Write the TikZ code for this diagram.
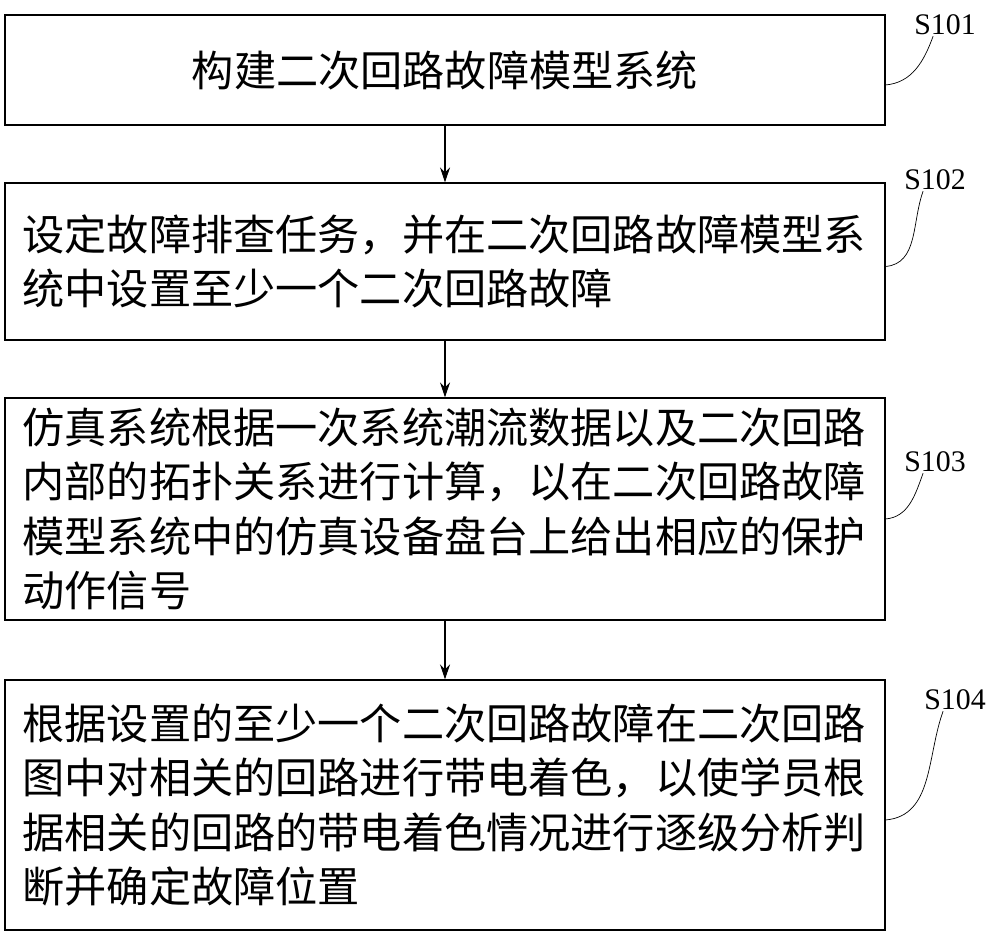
\documentclass[tikz,border=0pt]{standalone}
\usepackage{fontspec}
\setmainfont{Liberation Serif}
\newfontfamily\cjk{Noto Sans CJK SC}
\usetikzlibrary{arrows.meta}

\tikzset{
    stepbox/.style={draw=black, line width=0.6pt, minimum width=17.6cm,
        text width=16.9cm, font=\cjk\fontsize{24}{31}\selectfont, inner sep=0pt},
    steplabel/.style={font=\fontsize{17}{20}\selectfont},
    flow/.style={-{Stealth[length=3mm,width=2mm]}, line width=0.6pt}
}

\begin{document}
\begin{tikzpicture}
        \useasboundingbox (0,0) rectangle (20,18.86);
        % boxes
        \node[stepbox, minimum height=2.2cm, align=center] (box1) at (8.9,17.46)
        {构建二次回路故障模型系统};
        \node[stepbox, minimum height=3.14cm, align=left] (box2) at (8.9,13.63)
        {设定故障排查任务，并在二次回路故障模型系\\统中设置至少一个二次回路故障};
        \node[stepbox, minimum height=4.44cm, align=left] (box3) at (8.9,8.68)
        {仿真系统根据一次系统潮流数据以及二次回路\\内部的拓扑关系进行计算，以在二次回路故障\\模型系统中的仿真设备盘台上给出相应的保护\\动作信号};
        \node[stepbox, minimum height=5.0cm, align=left] (box4) at (8.9,2.76)
        {根据设置的至少一个二次回路故障在二次回路\\图中对相关的回路进行带电着色，以使学员根\\据相关的回路的带电着色情况进行逐级分析判\\断并确定故障位置};
        % arrows
        \draw[flow] (box1) -- (box2);
        \draw[flow] (box2) -- (box3);
        \draw[flow] (box3) -- (box4);
        % labels
        \node[steplabel] (s101) at (18.9,18.36) {S101};
        \node[steplabel] (s102) at (18.7,15.26) {S102};
        \node[steplabel] (s103) at (18.7,9.62) {S103};
        \node[steplabel] (s104) at (19.1,4.86) {S104};
        \draw ([yshift=-3mm]box1.east) to[out=5, in=-110] ([xshift=5mm,yshift=1mm]s101.south west);
        \draw ([yshift=-1mm]box2.east) to[out=5, in=-110] ([xshift=5mm,yshift=1mm]s102.south west);
        \draw ([yshift=-2mm]box3.east) to[out=5, in=-110] ([xshift=5mm,yshift=1mm]s103.south west);
        \draw ([yshift=-3mm]box4.east) to[out=5, in=-110] ([xshift=5mm,yshift=1mm]s104.south west);
    \end{tikzpicture}
\end{document}
